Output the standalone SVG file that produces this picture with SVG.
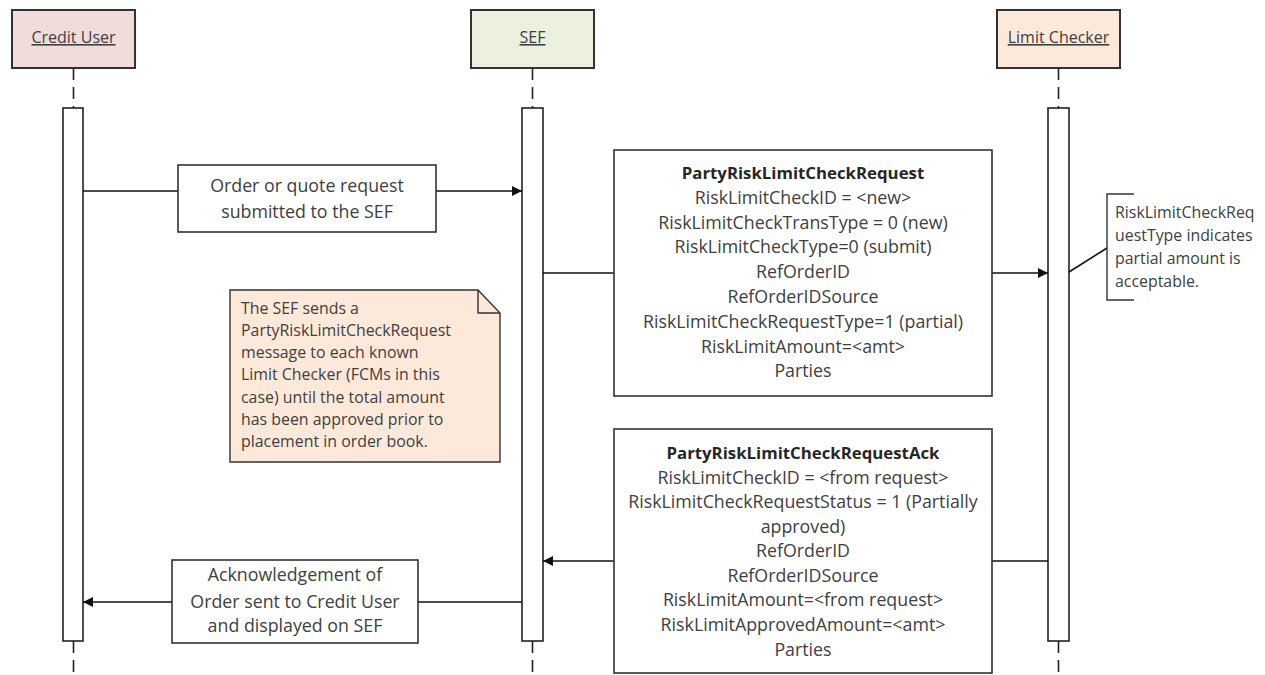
<svg xmlns="http://www.w3.org/2000/svg" width="1265" height="675" viewBox="0 0 1265 675">
<style>
  .hdr { stroke: #333; stroke-width: 2; }
  .hdrtxt { font-family: "Open Sans", "Liberation Sans", sans-serif; font-size: 16px; fill: #404040; text-anchor: middle; text-decoration: underline; }
  .life { stroke: #222; stroke-width: 1.6; stroke-dasharray: 12 7; fill: none; }
  .act { fill: #fff; stroke: #222; stroke-width: 1.6; }
  .msg { stroke: #111; stroke-width: 1.6; fill: none; }
  .box { fill: #fff; stroke: #333; stroke-width: 1.6; }
  .t { font-family: "Open Sans", "Liberation Sans", sans-serif; font-size: 17.8px; fill: #404040; text-anchor: middle; }
  .tb { font-family: "Open Sans", "Liberation Sans", sans-serif; font-size: 16.8px; fill: #262626; font-weight: bold; text-anchor: middle; }
  .n { font-family: "Open Sans", "Liberation Sans", sans-serif; font-size: 15.9px; fill: #404040; }
</style>
<defs>
  <marker id="arr" viewBox="0 0 10 10" refX="10" refY="5" markerWidth="10" markerHeight="10" markerUnits="userSpaceOnUse" orient="auto">
    <path d="M0,0 L10,5 L0,10 Z" fill="#111"/>
  </marker>
</defs>
<rect width="1265" height="675" fill="#fff"/>

<g id="credit-user">
  <rect class="hdr" x="12" y="10" width="123" height="58" fill="#F2DCDB"/>
  <text class="hdrtxt" x="73.5" y="43">Credit User</text>
  <line class="life" x1="73.5" y1="68" x2="73.5" y2="108"/>
  <line class="life" x1="73.5" y1="641" x2="73.5" y2="675"/>
  <rect class="act" x="63" y="108" width="20" height="533"/>
</g>

<g id="sef">
  <rect class="hdr" x="471" y="10" width="123" height="58" fill="#EBF1DE"/>
  <text class="hdrtxt" x="532.5" y="43">SEF</text>
  <line class="life" x1="532.5" y1="68" x2="532.5" y2="108"/>
  <line class="life" x1="532.5" y1="641" x2="532.5" y2="675"/>
  <rect class="act" x="522" y="108" width="21" height="533"/>
</g>

<g id="limit-checker">
  <rect class="hdr" x="997" y="10" width="123" height="58" fill="#FDE9D9"/>
  <text class="hdrtxt" x="1058.5" y="43">Limit Checker</text>
  <line class="life" x1="1058.5" y1="68" x2="1058.5" y2="108"/>
  <line class="life" x1="1058.5" y1="641" x2="1058.5" y2="675"/>
  <rect class="act" x="1048" y="108" width="21" height="533"/>
</g>

<g id="connectors">
  <line class="msg" x1="83" y1="191" x2="522" y2="191" marker-end="url(#arr)"/>
  <line class="msg" x1="543" y1="273" x2="1048" y2="273" marker-end="url(#arr)"/>
  <line class="msg" x1="1048" y1="561" x2="543" y2="561" marker-end="url(#arr)"/>
  <line class="msg" x1="522" y1="602" x2="83" y2="602" marker-end="url(#arr)"/>
  <line class="msg" x1="1069" y1="272" x2="1107" y2="248" stroke-width="1.2"/>
</g>

<g id="msg-order">
  <rect class="box" x="178" y="165" width="258" height="67"/>
  <text class="t" x="307" y="192">Order or quote request</text>
  <text class="t" x="307" y="218">submitted to the SEF</text>
</g>

<g id="msg-request">
  <rect class="box" x="614" y="150" width="378" height="246"/>
  <text class="tb" x="803" y="179">PartyRiskLimitCheckRequest</text>
  <text class="t" x="803" y="204">RiskLimitCheckID = &lt;new&gt;</text>
  <text class="t" x="803" y="229">RiskLimitCheckTransType = 0 (new)</text>
  <text class="t" x="803" y="253">RiskLimitCheckType=0 (submit)</text>
  <text class="t" x="803" y="278">RefOrderID</text>
  <text class="t" x="803" y="303">RefOrderIDSource</text>
  <text class="t" x="803" y="328">RiskLimitCheckRequestType=1 (partial)</text>
  <text class="t" x="803" y="353">RiskLimitAmount=&lt;amt&gt;</text>
  <text class="t" x="803" y="377">Parties</text>
</g>

<g id="msg-ack">
  <rect class="box" x="614" y="429" width="378" height="244"/>
  <text class="tb" x="803" y="459">PartyRiskLimitCheckRequestAck</text>
  <text class="t" x="803" y="484">RiskLimitCheckID = &lt;from request&gt;</text>
  <text class="t" x="803" y="508">RiskLimitCheckRequestStatus = 1 (Partially</text>
  <text class="t" x="803" y="533">approved)</text>
  <text class="t" x="803" y="557">RefOrderID</text>
  <text class="t" x="803" y="582">RefOrderIDSource</text>
  <text class="t" x="803" y="606">RiskLimitAmount=&lt;from request&gt;</text>
  <text class="t" x="803" y="631">RiskLimitApprovedAmount=&lt;amt&gt;</text>
  <text class="t" x="803" y="656">Parties</text>
</g>

<g id="msg-ack-user">
  <rect class="box" x="172" y="560" width="246" height="83"/>
  <text class="t" x="295" y="581">Acknowledgement of</text>
  <text class="t" x="295" y="608">Order sent to Credit User</text>
  <text class="t" x="295" y="632">and displayed on SEF</text>
</g>

<g id="note-sef">
  <path d="M230,290 H478 L500,313 V462 H230 Z" fill="#FDE9D9" stroke="#333" stroke-width="1.4"/>
  <path d="M478,290 V313 H500" fill="none" stroke="#333" stroke-width="1.4"/>
  <text class="n" x="241" y="313.5">The SEF sends a</text>
  <text class="n" x="241" y="335.8">PartyRiskLimitCheckRequest</text>
  <text class="n" x="241" y="358.1">message to each known</text>
  <text class="n" x="241" y="380.4">Limit Checker (FCMs in this</text>
  <text class="n" x="241" y="402.7">case) until the total amount</text>
  <text class="n" x="241" y="425">has been approved prior to</text>
  <text class="n" x="241" y="447.3">placement in order book.</text>
</g>

<g id="note-partial">
  <path d="M1134,194 H1107 V300 H1134" fill="none" stroke="#333" stroke-width="1.4"/>
  <text class="n" x="1115" y="218">RiskLimitCheckReq</text>
  <text class="n" x="1115" y="241">uestType indicates</text>
  <text class="n" x="1115" y="264">partial amount is</text>
  <text class="n" x="1115" y="287">acceptable.</text>
</g>
</svg>
